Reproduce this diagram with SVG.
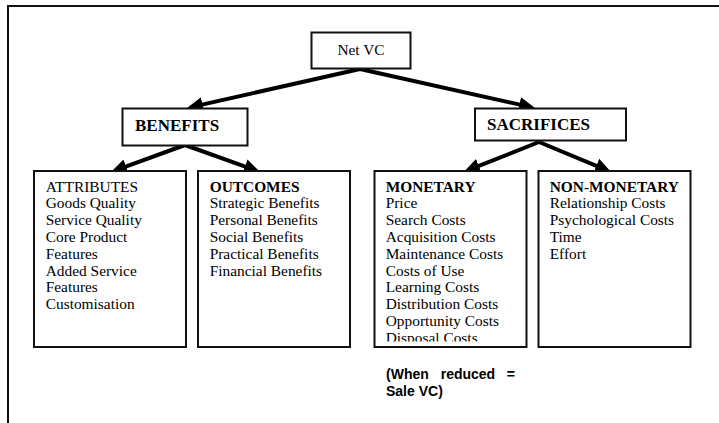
<svg xmlns="http://www.w3.org/2000/svg" width="719" height="423" viewBox="0 0 719 423">
  <style>
    .box { fill: #fff; stroke: #111; stroke-width: 2; }
    .frame { fill: none; stroke: #111; stroke-width: 2; }
    .edge { fill: none; stroke: #000; stroke-width: 4; marker-end: url(#head); }
    .serif { font-family: "Liberation Serif", "Times New Roman", serif; fill: #000; }
    .body { font-size: 15.4px; }
    .title { font-size: 17px; font-weight: bold; }
    .bold { font-weight: bold; }
    .note { font-family: "Liberation Sans", Arial, sans-serif; font-size: 14px; font-weight: bold; fill: #000; }
  </style>
  <defs>
    <marker id="head" markerUnits="userSpaceOnUse" markerWidth="18" markerHeight="16" viewBox="0 -8 18 16" refX="4" refY="0" orient="auto">
      <path d="M0,-7.5 L16,0 L0,7.5 z" fill="#000"/>
    </marker>
    <clipPath id="clipMonetary">
      <rect x="375" y="172" width="150" height="169.5"/>
    </clipPath>
  </defs>

  <rect width="719" height="423" fill="#fff"/>

  <!-- outer frame: top and left rules only -->
  <g id="frame">
    <line class="frame" x1="7" y1="6" x2="719" y2="6"/>
    <line class="frame" x1="8" y1="5" x2="8" y2="423"/>
  </g>

  <!-- connectors -->
  <g id="connectors">
    <line class="edge" x1="360" y1="69" x2="198.7" y2="105.4"/>
    <line class="edge" x1="360" y1="69" x2="523.3" y2="105.4"/>
    <line class="edge" x1="185" y1="145" x2="122.3" y2="167.9"/>
    <line class="edge" x1="185" y1="145" x2="248.7" y2="167.9"/>
    <line class="edge" x1="539" y1="142" x2="475.1" y2="167.4"/>
    <line class="edge" x1="539" y1="142" x2="600" y2="167.3"/>
  </g>

  <g id="net-vc">
    <rect class="box" x="311.5" y="32.5" width="99" height="36"/>
    <text class="serif body" x="361" y="55" text-anchor="middle">Net VC</text>
  </g>

  <g id="benefits">
    <rect class="box" x="122.5" y="108.5" width="125" height="37"/>
    <text class="serif title" x="135" y="131">BENEFITS</text>
  </g>

  <g id="sacrifices">
    <rect class="box" x="475" y="108.5" width="151" height="32"/>
    <text class="serif title" x="487" y="129.5">SACRIFICES</text>
  </g>

  <g id="attributes">
    <rect class="box" x="34" y="171" width="152" height="176"/>
    <text class="serif body" x="45.7" y="191.7">
      <tspan x="45.7">ATTRIBUTES</tspan>
      <tspan x="45.7" dy="16.76">Goods Quality</tspan>
      <tspan x="45.7" dy="16.76">Service Quality</tspan>
      <tspan x="45.7" dy="16.76">Core Product</tspan>
      <tspan x="45.7" dy="16.76">Features</tspan>
      <tspan x="45.7" dy="16.76">Added Service</tspan>
      <tspan x="45.7" dy="16.76">Features</tspan>
      <tspan x="45.7" dy="16.76">Customisation</tspan>
    </text>
  </g>

  <g id="outcomes">
    <rect class="box" x="198" y="171" width="152" height="176"/>
    <text class="serif body" x="209.7" y="191.7">
      <tspan x="209.7" class="bold">OUTCOMES</tspan>
      <tspan x="209.7" dy="16.76">Strategic Benefits</tspan>
      <tspan x="209.7" dy="16.76">Personal Benefits</tspan>
      <tspan x="209.7" dy="16.76">Social Benefits</tspan>
      <tspan x="209.7" dy="16.76">Practical Benefits</tspan>
      <tspan x="209.7" dy="16.76">Financial Benefits</tspan>
    </text>
  </g>

  <g id="monetary">
    <rect class="box" x="374.5" y="171" width="152" height="176"/>
    <text class="serif body" x="385.7" y="191.7" clip-path="url(#clipMonetary)">
      <tspan x="385.7" class="bold">MONETARY</tspan>
      <tspan x="385.7" dy="16.76">Price</tspan>
      <tspan x="385.7" dy="16.76">Search Costs</tspan>
      <tspan x="385.7" dy="16.76">Acquisition Costs</tspan>
      <tspan x="385.7" dy="16.76">Maintenance Costs</tspan>
      <tspan x="385.7" dy="16.76">Costs of Use</tspan>
      <tspan x="385.7" dy="16.76">Learning Costs</tspan>
      <tspan x="385.7" dy="16.76">Distribution Costs</tspan>
      <tspan x="385.7" dy="16.76">Opportunity Costs</tspan>
      <tspan x="385.7" dy="16.76">Disposal Costs</tspan>
    </text>
  </g>

  <g id="non-monetary">
    <rect class="box" x="538.5" y="171" width="152" height="176"/>
    <text class="serif body" x="549.7" y="191.7">
      <tspan x="549.7" class="bold">NON-MONETARY</tspan>
      <tspan x="549.7" dy="16.76">Relationship Costs</tspan>
      <tspan x="549.7" dy="16.76">Psychological Costs</tspan>
      <tspan x="549.7" dy="16.76">Time</tspan>
      <tspan x="549.7" dy="16.76">Effort</tspan>
    </text>
  </g>

  <!-- justified note under the monetary box -->
  <g id="note">
    <text class="note" x="386" y="379">(When</text>
    <text class="note" x="440.7" y="379">reduced</text>
    <text class="note" x="515" y="379" text-anchor="end">=</text>
    <text class="note" x="386" y="396">Sale VC)</text>
  </g>
</svg>
